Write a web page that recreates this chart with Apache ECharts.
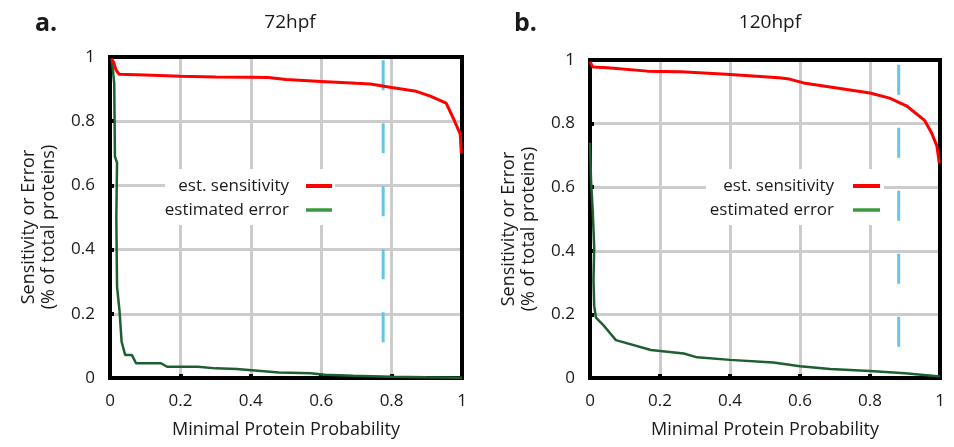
<!DOCTYPE html>
<html>
<head>
<meta charset="utf-8">
<script src="https://cdn.jsdelivr.net/npm/echarts@6/dist/echarts.min.js"></script>
<style>
html,body{margin:0;padding:0;background:#fff;}
#c{width:954px;height:447px;}
</style>
</head>
<body>
<div id="c"></div>
<script>
// ---- data ----
const panelTitles = ['72hpf', '120hpf'];
const panelLetters = ['a.', 'b.'];
const xTicks = [0, 0.2, 0.4, 0.6, 0.8, 1];
const yTicks = [0, 0.2, 0.4, 0.6, 0.8, 1];
const seriesNames = ['est. sensitivity', 'estimated error'];
const xAxisTitle = 'Minimal Protein Probability';
const yAxisTitle1 = 'Sensitivity or Error';
const yAxisTitle2 = '(% of total proteins)';

const sens72 = [[0.003,0.995],[0.01,0.985],[0.017,0.96],[0.026,0.946],[0.1,0.944],[0.2,0.94],[0.3,0.938],[0.4,0.937],[0.45,0.936],[0.5,0.93],[0.6,0.924],[0.7,0.918],[0.74,0.916],[0.8,0.905],[0.87,0.893],[0.91,0.878],[0.955,0.856],[0.975,0.81],[0.995,0.76],[0.998,0.70]];
const err72 = [[0.005,0.995],[0.012,0.918],[0.014,0.69],[0.02,0.67],[0.018,0.5],[0.02,0.285],[0.027,0.21],[0.033,0.113],[0.043,0.072],[0.062,0.072],[0.074,0.046],[0.145,0.046],[0.162,0.035],[0.25,0.035],[0.3,0.03],[0.36,0.028],[0.48,0.017],[0.57,0.015],[0.61,0.01],[0.69,0.007],[0.8,0.004],[0.9,0.002],[1.0,0.001]];
const sens120 = [[0,0.995],[0.008,0.978],[0.05,0.976],[0.164,0.965],[0.26,0.963],[0.39,0.955],[0.54,0.944],[0.57,0.94],[0.61,0.928],[0.8,0.896],[0.856,0.88],[0.904,0.856],[0.956,0.81],[0.975,0.773],[0.991,0.73],[0.998,0.675]];
const err120 = [[0,0.74],[0.003,0.62],[0.008,0.52],[0.012,0.41],[0.01,0.31],[0.012,0.226],[0.017,0.19],[0.036,0.169],[0.074,0.119],[0.174,0.088],[0.268,0.077],[0.306,0.065],[0.4,0.057],[0.524,0.049],[0.6,0.037],[0.686,0.028],[0.8,0.022],[0.9,0.015],[1.0,0.005]];
const cutoffX = [0.776, 0.882];
const cutoffYTop = [0.99, 0.985];
const cutoffYBottom = [0.1, 0.09];

// ---- styles ----
const FONT = '"Open Sans", sans-serif';
const TXT = '#1a1a1a';
const RED = '#ff0000';
const DKGREEN = '#1e5f30';
const LGGREEN = '#3a9a3e';
const BLUE = '#66c4e4';
const grids = [
  {left:110, top:57, width:352, height:321},
  {left:590, top:60, width:350, height:318}
];
const legendPos = [
  {box:[165,169,170,56], textRight:289, lineX:[306,332], rows:[186,210]},
  {box:[706,169,178,56], textRight:834, lineX:[853,880], rows:[186,210]}
];
const yTitlePos = [[29,49,227],[509,529,229]];
const titleX = [285, 765];
const letterX = [30, 509];

const chart = echarts.init(document.getElementById('c'), null, {renderer:'canvas'});

const xAxes = [], yAxes = [], series = [], titles = [], graphics = [];
grids.forEach((g, i) => {
  xAxes.push({
    type:'value', gridIndex:i, min:xTicks[0], max:xTicks[xTicks.length-1], interval:0.2, z:0,
    axisLine:{show:false},
    axisTick:{show:true, inside:true, length:4, lineStyle:{color:'#000', width:4}},
    axisLabel:{color:TXT, fontFamily:FONT, fontSize:17, margin:15, showMinLabel:true, showMaxLabel:true},
    splitLine:{show:true, showMinLine:false, showMaxLine:false, lineStyle:{color:'#cccccc', width:3}},
    name:xAxisTitle, nameLocation:'middle', nameGap:43,
    nameTextStyle:{color:TXT, fontFamily:FONT, fontSize:18}
  });
  yAxes.push({
    type:'value', gridIndex:i, min:yTicks[0], max:yTicks[yTicks.length-1], interval:0.2, z:0,
    axisLine:{show:false},
    axisTick:{show:true, inside:true, length:4, lineStyle:{color:'#000', width:4}},
    axisLabel:{color:TXT, fontFamily:FONT, fontSize:17, margin:15},
    splitLine:{show:true, showMinLine:false, showMaxLine:false, lineStyle:{color:'#cccccc', width:3}}
  });
  const sens = i === 0 ? sens72 : sens120;
  const err = i === 0 ? err72 : err120;
  series.push({
    type:'line', name:'cutoff', xAxisIndex:i, yAxisIndex:i, z:3, symbol:'none', silent:true,
    data:[[cutoffX[i], cutoffYTop[i]], [cutoffX[i], cutoffYBottom[i]]],
    lineStyle:{color:BLUE, width:3, type:[30,33]}
  });
  series.push({
    type:'line', name:seriesNames[1], xAxisIndex:i, yAxisIndex:i, z:4, symbol:'none',
    data:err, lineStyle:{color:DKGREEN, width:2.5}
  });
  series.push({
    type:'line', name:seriesNames[0], xAxisIndex:i, yAxisIndex:i, z:5, symbol:'none',
    data:sens, lineStyle:{color:RED, width:3}
  });
  titles.push({text:panelTitles[i], left:titleX[i], top:8, textAlign:'center',
    textStyle:{color:TXT, fontFamily:FONT, fontSize:19, fontWeight:'normal'}});
  titles.push({text:panelLetters[i], left:letterX[i], top:6,
    textStyle:{color:TXT, fontFamily:FONT, fontSize:25, fontWeight:'bold'}});
  // legend box
  const L = legendPos[i];
  graphics.push({type:'rect', z:2, shape:{x:L.box[0], y:L.box[1], width:L.box[2], height:L.box[3]}, style:{fill:'#fff'}});
  seriesNames.forEach((nm, k) => {
    graphics.push({type:'text', z:3, x:L.textRight, y:L.rows[k],
      style:{text:nm, fill:TXT, font:'17px ' + FONT, textAlign:'right', textVerticalAlign:'middle'}});
    graphics.push({type:'line', z:3, shape:{x1:L.lineX[0], y1:L.rows[k], x2:L.lineX[1], y2:L.rows[k]},
      style:{stroke:k === 0 ? RED : LGGREEN, lineWidth:k === 0 ? 4 : 3.5}});
  });
  // y axis titles
  const P = yTitlePos[i];
  graphics.push({type:'text', z:3, x:P[0], y:P[2], rotation:Math.PI/2,
    style:{text:yAxisTitle1, fill:TXT, font:'18px ' + FONT, textAlign:'center', textVerticalAlign:'middle'}});
  graphics.push({type:'text', z:3, x:P[1], y:P[2], rotation:Math.PI/2,
    style:{text:yAxisTitle2, fill:TXT, font:'18px ' + FONT, textAlign:'center', textVerticalAlign:'middle'}});
});

chart.setOption({
  backgroundColor:'#fff',
  animation:false,
  title:titles,
  grid:grids.map(g => Object.assign({show:true, z:1, borderColor:'#000', borderWidth:4, backgroundColor:'transparent'}, g)),
  xAxis:xAxes,
  yAxis:yAxes,
  series:series,
  graphic:graphics
});
</script>
</body>
</html>
